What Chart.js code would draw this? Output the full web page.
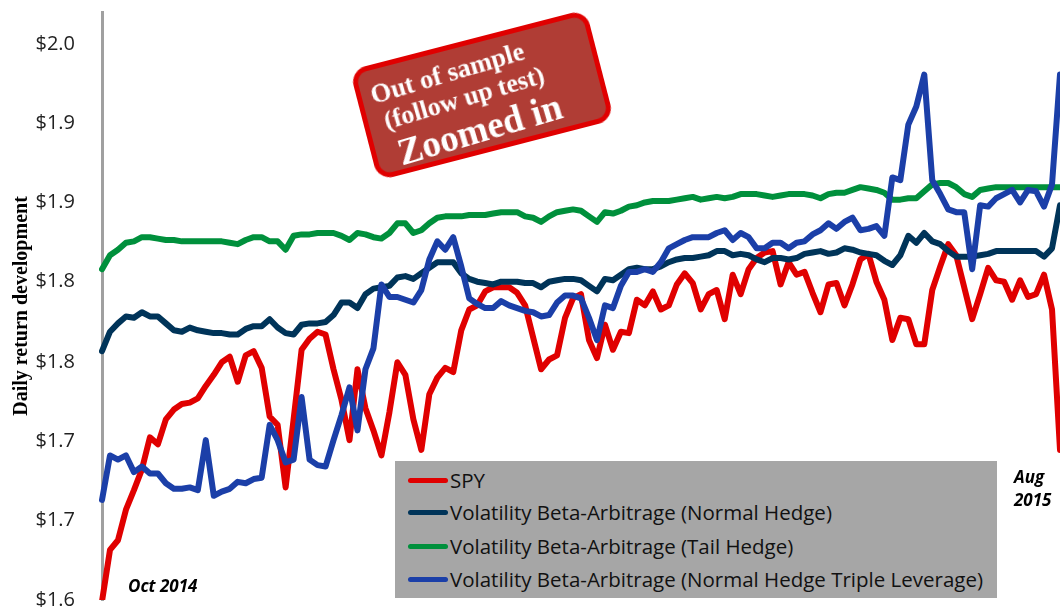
<!DOCTYPE html>
<html>
<head>
<meta charset="utf-8">
<script src="https://cdn.jsdelivr.net/npm/chart.js@4.4.0/dist/chart.umd.min.js"></script>
<style>
  html, body { margin: 0; padding: 0; background: #fff; }
  #wrap { position: relative; width: 1060px; height: 607px; overflow: hidden; }
  #legend { position: absolute; left: 395px; top: 461px; width: 602px; height: 137px; background: #a6a6a6;
            font-family: "Open Sans", sans-serif; font-size: 20.5px; color: #111; }
  #legend .row { position: absolute; left: 13px; height: 26px; display: flex; align-items: center; white-space: nowrap; }
  #legend .swatch { width: 40px; height: 5px; border-radius: 3px; margin-right: 2px; }
  .stamp { position: absolute; left: 360px; top: 38px; width: 234px; height: 104px; background: #b03d35;
           border: 5px solid #e00000; border-radius: 16px; transform: rotate(-14.5deg); }
  .stamp .txt { position: absolute; left: 50%; top: 50%; width: 0; height: 0; transform: rotate(-2deg); }
  .stamp .line { position: absolute; transform: translate(-50%, -50%); white-space: nowrap; color: #fff;
                 font-family: "Liberation Serif", serif; font-weight: bold; line-height: 1; }
  .note { position: absolute; font-family: "Open Sans", sans-serif; font-weight: bold; font-style: italic;
          font-size: 17px; color: #000; line-height: 22px; white-space: nowrap; }
</style>
</head>
<body>
<div id="wrap">
  <canvas id="chart"></canvas>
  <div class="stamp">
    <div class="txt">
      <div class="line" style="left:-27px; top:-31px; font-size:26.5px;">Out of sample</div>
      <div class="line" style="left:-18px; top:-2px; font-size:26px;">(follow up test)</div>
      <div class="line" style="left:-12px; top:32px; font-size:37px;">Zoomed in</div>
    </div>
  </div>
  <div id="legend"></div>
  <div class="note" style="left:128px; top:575px;">Oct 2014</div>
  <div class="note" style="left:1014px; top:466px;">Aug</div>
  <div class="note" style="left:1014px; top:489px;">2015</div>
</div>
<script>
// daily values, Oct 2014 - Aug 2015
var spy = [
  1.599, 1.636, 1.643, 1.665, 1.679, 1.694, 1.717, 1.712, 1.730, 1.737,
  1.741, 1.742, 1.745, 1.754, 1.762, 1.771, 1.775, 1.757, 1.776, 1.779,
  1.767, 1.732, 1.726, 1.681, 1.730, 1.780, 1.788, 1.793, 1.791, 1.766,
  1.744, 1.715, 1.766, 1.738, 1.722, 1.704, 1.735, 1.771, 1.762, 1.730,
  1.708, 1.748, 1.760, 1.767, 1.764, 1.794, 1.809, 1.812, 1.822, 1.825,
  1.825, 1.825, 1.821, 1.812, 1.789, 1.766, 1.773, 1.776, 1.803, 1.817,
  1.820, 1.787, 1.774, 1.798, 1.780, 1.793, 1.792, 1.816, 1.812, 1.822,
  1.809, 1.812, 1.827, 1.835, 1.828, 1.809, 1.820, 1.823, 1.802, 1.834,
  1.820, 1.838, 1.846, 1.850, 1.851, 1.827, 1.843, 1.834, 1.836, 1.821,
  1.807, 1.827, 1.828, 1.812, 1.827, 1.845, 1.849, 1.829, 1.816, 1.787,
  1.803, 1.802, 1.784, 1.784, 1.823, 1.840, 1.856, 1.848, 1.825, 1.802,
  1.820, 1.839, 1.830, 1.829, 1.816, 1.830, 1.818, 1.820, 1.834, 1.809,
  1.708
];
var normalHedge = [
  1.779, 1.793, 1.799, 1.804, 1.803, 1.807, 1.804, 1.804, 1.799, 1.794,
  1.793, 1.796, 1.794, 1.793, 1.792, 1.792, 1.791, 1.791, 1.795, 1.797,
  1.797, 1.802, 1.796, 1.792, 1.791, 1.798, 1.799, 1.799, 1.800, 1.805,
  1.814, 1.814, 1.810, 1.820, 1.824, 1.825, 1.826, 1.832, 1.833, 1.831,
  1.835, 1.839, 1.843, 1.843, 1.843, 1.835, 1.831, 1.829, 1.828, 1.827,
  1.829, 1.829, 1.829, 1.828, 1.828, 1.825, 1.829, 1.830, 1.831, 1.831,
  1.830, 1.826, 1.822, 1.831, 1.830, 1.834, 1.838, 1.839, 1.838, 1.838,
  1.840, 1.843, 1.845, 1.846, 1.846, 1.847, 1.848, 1.851, 1.851, 1.848,
  1.849, 1.848, 1.845, 1.843, 1.846, 1.846, 1.845, 1.846, 1.849, 1.850,
  1.851, 1.849, 1.850, 1.853, 1.852, 1.850, 1.849, 1.848, 1.844, 1.841,
  1.848, 1.862, 1.857, 1.864, 1.858, 1.856, 1.851, 1.847, 1.847, 1.847,
  1.848, 1.849, 1.851, 1.851, 1.851, 1.851, 1.851, 1.851, 1.847, 1.853,
  1.884
];
var tailHedge = [
  1.838, 1.848, 1.852, 1.857, 1.858, 1.861, 1.861, 1.860, 1.859, 1.859,
  1.858, 1.858, 1.858, 1.858, 1.858, 1.858, 1.857, 1.856, 1.859, 1.861,
  1.861, 1.858, 1.858, 1.852, 1.862, 1.863, 1.863, 1.864, 1.864, 1.864,
  1.862, 1.859, 1.864, 1.863, 1.861, 1.860, 1.864, 1.871, 1.871, 1.864,
  1.866, 1.871, 1.875, 1.876, 1.876, 1.876, 1.877, 1.877, 1.877, 1.878,
  1.879, 1.879, 1.879, 1.876, 1.875, 1.872, 1.876, 1.879, 1.880, 1.881,
  1.880, 1.876, 1.872, 1.879, 1.878, 1.880, 1.883, 1.884, 1.886, 1.887,
  1.887, 1.887, 1.888, 1.889, 1.890, 1.888, 1.889, 1.890, 1.889, 1.890,
  1.892, 1.892, 1.892, 1.891, 1.890, 1.891, 1.892, 1.892, 1.892, 1.891,
  1.889, 1.892, 1.893, 1.893, 1.895, 1.897, 1.896, 1.895, 1.893, 1.888,
  1.888, 1.889, 1.889, 1.894, 1.899, 1.900, 1.900, 1.897, 1.892, 1.890,
  1.895, 1.896, 1.897, 1.897, 1.897, 1.897, 1.897, 1.897, 1.897, 1.897,
  1.897
];
var tripleLeverage = [
  1.672, 1.704, 1.701, 1.704, 1.692, 1.696, 1.691, 1.691, 1.684, 1.680,
  1.680, 1.681, 1.679, 1.715, 1.675, 1.678, 1.680, 1.685, 1.684, 1.687,
  1.688, 1.726, 1.715, 1.699, 1.701, 1.746, 1.701, 1.697, 1.696, 1.715,
  1.733, 1.753, 1.722, 1.766, 1.781, 1.827, 1.818, 1.818, 1.816, 1.814,
  1.823, 1.845, 1.858, 1.852, 1.861, 1.840, 1.817, 1.813, 1.810, 1.810,
  1.815, 1.812, 1.810, 1.808, 1.807, 1.804, 1.805, 1.814, 1.819, 1.819,
  1.817, 1.803, 1.787, 1.812, 1.810, 1.826, 1.836, 1.836, 1.838, 1.836,
  1.843, 1.853, 1.856, 1.859, 1.861, 1.861, 1.861, 1.864, 1.866, 1.859,
  1.864, 1.861, 1.853, 1.853, 1.857, 1.857, 1.853, 1.857, 1.858, 1.863,
  1.866, 1.871, 1.867, 1.872, 1.875, 1.866, 1.867, 1.869, 1.862, 1.904,
  1.902, 1.942, 1.955, 1.978, 1.902, 1.892, 1.881, 1.879, 1.879, 1.838,
  1.884, 1.883, 1.889, 1.892, 1.895, 1.886, 1.895, 1.894, 1.883, 1.899,
  1.978
];
var tradingDays = spy.map(function (v, i) { return i + 1; });
var yTicks = [1.6, 1.657, 1.714, 1.771, 1.829, 1.886, 1.943, 2.0];
var seriesNames = [
  "SPY",
  "Volatility Beta-Arbitrage (Normal Hedge)",
  "Volatility Beta-Arbitrage (Tail Hedge)",
  "Volatility Beta-Arbitrage (Normal Hedge Triple Leverage)"
];
var seriesColors = ["#e00000", "#003459", "#00903c", "#1b3fa8"];

var seriesData = [spy, normalHedge, tailHedge, tripleLeverage];
var datasets = seriesData.map(function (d, i) {
  return {
    label: seriesNames[i],
    data: d,
    borderColor: seriesColors[i],
    borderWidth: 6,
    pointRadius: 0,
    tension: 0,
    borderJoinStyle: "round",
    borderCapStyle: "round",
    fill: false,
    order: 3 - i
  };
});

new Chart(document.getElementById("chart"), {
  type: "line",
  data: { labels: tradingDays, datasets: datasets },
  options: {
    responsive: true,
    maintainAspectRatio: false,
    animation: false,
    events: [],
    layout: { padding: { top: 12, bottom: 7, left: 0, right: 0 } },
    plugins: { legend: { display: false }, tooltip: { enabled: false } },
    scales: {
      x: { display: false },
      y: {
        min: 1.6,
        max: 2.023,
        afterBuildTicks: function (s) {
          s.ticks = yTicks.map(function (v) { return { value: v }; });
        },
        afterFit: function (s) {
          s.width = 102;
          s.paddingTop = 0;
          s.paddingBottom = 0;
        },
        grid: { display: false },
        border: { display: true, color: "#a0a0a0", width: 3 },
        ticks: {
          callback: function (v) { return "$" + v.toFixed(1); },
          font: { family: "Open Sans", size: 20 },
          color: "#222",
          padding: 19
        },
        title: {
          display: true,
          text: "Daily return development",
          font: { family: "Liberation Serif", size: 20, weight: "bold" },
          color: "#000",
          padding: { top: 10 }
        }
      }
    }
  }
});

// legend box
var legend = document.getElementById("legend");
var rowTops = [6, 38, 72, 105];
seriesNames.forEach(function (name, i) {
  var row = document.createElement("div");
  row.className = "row";
  row.style.top = rowTops[i] + "px";
  row.innerHTML = '<span class="swatch" style="background:' + seriesColors[i] + '"></span><span>' + name + '</span>';
  legend.appendChild(row);
});
</script>
</body>
</html>
